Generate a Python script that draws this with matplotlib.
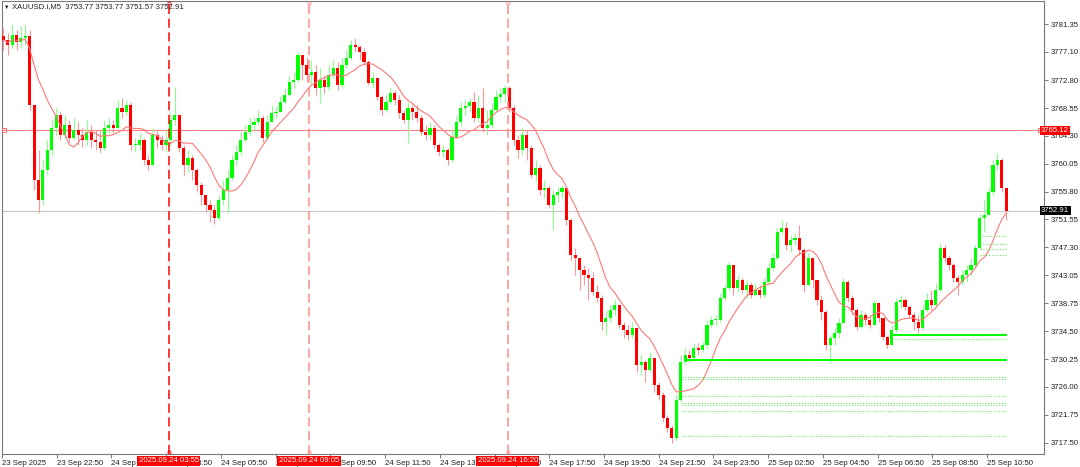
import numpy as np
import pandas as pd
import matplotlib
matplotlib.use("Agg")
import matplotlib.pyplot as plt
from matplotlib import transforms

plt.rcParams['font.family'] = ['Liberation Sans', 'DejaVu Sans']

# XAUUSD.i, M5 -- drawn here as 10 minute candles
first_open = 3779.6
close = [
    3778.9, 3778.2, 3779.7, 3778.6, 3779.2, 3779.5, 3769.0, 3757.6, 3754.5, 3759.1,
    3762.1, 3765.5, 3767.5, 3764.4, 3766.0, 3764.0, 3765.2, 3764.4, 3763.7, 3764.9,
    3763.7, 3763.4, 3762.5, 3765.5, 3766.0, 3765.5, 3768.5, 3767.9, 3769.0, 3762.9,
    3762.9, 3763.7, 3760.6, 3759.9, 3764.4, 3763.7, 3762.9, 3763.7, 3766.7, 3767.5,
    3762.5, 3759.9, 3760.9, 3759.1, 3756.8, 3755.3, 3753.8, 3753.0, 3751.8, 3754.5,
    3756.0, 3757.9, 3760.6, 3761.8, 3763.7, 3764.9, 3766.0, 3766.4, 3767.0, 3764.0,
    3766.4, 3767.8, 3767.9, 3769.5, 3770.5, 3772.5, 3772.8, 3776.6, 3775.1, 3773.6,
    3774.0, 3771.6, 3772.8, 3771.8, 3773.6, 3774.7, 3772.1, 3775.1, 3776.2, 3778.2,
    3777.9, 3777.1, 3775.6, 3772.4, 3773.1, 3770.2, 3768.2, 3769.5, 3770.8, 3769.8,
    3767.8, 3766.7, 3768.5, 3767.9, 3767.0, 3764.9, 3764.4, 3765.5, 3762.9, 3761.8,
    3762.1, 3760.6, 3764.1, 3766.4, 3768.5, 3768.9, 3769.5, 3767.0, 3768.5, 3765.5,
    3766.0, 3768.2, 3770.2, 3770.7, 3771.6, 3768.5, 3763.7, 3762.1, 3764.4, 3762.5,
    3758.3, 3759.4, 3756.0, 3756.4, 3753.8, 3755.3, 3755.7, 3756.4, 3751.5, 3746.1,
    3745.7, 3743.8, 3743.1, 3742.6, 3740.5, 3739.6, 3735.9, 3736.5, 3737.7, 3738.5,
    3735.4, 3734.7, 3733.9, 3735.0, 3729.4, 3729.8, 3728.6, 3730.4, 3726.3, 3724.8,
    3721.3, 3719.7, 3718.2, 3724.0, 3729.8, 3730.9, 3730.4, 3731.9, 3731.6, 3732.4,
    3735.4, 3736.2, 3736.2, 3739.6, 3741.1, 3744.6, 3741.1, 3742.3, 3740.8, 3741.6,
    3740.0, 3740.8, 3740.0, 3742.0, 3744.1, 3745.7, 3749.6, 3750.2, 3747.7, 3748.4,
    3748.7, 3746.9, 3741.6, 3745.7, 3742.3, 3739.3, 3737.4, 3732.4, 3733.5, 3734.2,
    3735.8, 3742.0, 3739.6, 3737.7, 3735.1, 3737.0, 3736.2, 3735.4, 3738.8, 3736.5,
    3733.6, 3732.4, 3734.7, 3739.0, 3739.3, 3738.2, 3737.0, 3735.9, 3735.0, 3737.7,
    3739.3, 3738.5, 3740.8, 3747.2, 3745.7, 3744.6, 3742.6, 3742.0, 3743.1, 3743.8,
    3744.6, 3747.2, 3751.8, 3752.2, 3755.7, 3759.9, 3760.6, 3756.4, 3752.91,
]
high = [
    3780.8, 3780.0, 3781.2, 3780.4, 3781.1, 3781.4, 3780.4, 3769.0, 3762.1, 3760.6,
    3763.7, 3766.7, 3768.5, 3767.9, 3767.5, 3766.7, 3767.0, 3766.4, 3765.5, 3766.7,
    3766.0, 3765.2, 3765.2, 3766.7, 3767.0, 3766.7, 3769.8, 3770.1, 3769.8, 3769.5,
    3764.0, 3764.7, 3764.0, 3761.4, 3765.5, 3765.2, 3764.4, 3765.2, 3767.9, 3771.8,
    3767.0, 3762.9, 3762.1, 3761.4, 3759.4, 3757.3, 3755.3, 3754.5, 3753.8, 3755.3,
    3757.6, 3759.1, 3761.4, 3762.9, 3764.9, 3766.0, 3767.0, 3767.2, 3768.2, 3767.5,
    3767.5, 3769.0, 3768.9, 3770.4, 3771.6, 3773.4, 3774.0, 3777.1, 3776.6, 3776.3,
    3775.9, 3775.1, 3774.7, 3773.6, 3775.1, 3775.9, 3775.6, 3776.2, 3777.4, 3778.9,
    3779.2, 3778.2, 3777.7, 3775.9, 3774.0, 3772.8, 3770.5, 3770.5, 3771.8, 3771.3,
    3770.5, 3768.2, 3769.5, 3769.0, 3769.0, 3767.5, 3766.0, 3766.4, 3766.0, 3763.2,
    3762.9, 3762.5, 3765.2, 3767.3, 3769.5, 3769.8, 3770.1, 3771.0, 3770.5, 3771.6,
    3768.2, 3769.3, 3771.3, 3771.6, 3772.1, 3771.9, 3769.0, 3764.4, 3765.5, 3765.2,
    3762.9, 3760.6, 3759.9, 3757.6, 3756.8, 3756.0, 3756.5, 3756.8, 3756.4, 3751.8,
    3747.2, 3745.7, 3744.6, 3744.2, 3743.5, 3741.6, 3740.0, 3737.7, 3738.5, 3739.3,
    3738.5, 3735.9, 3735.4, 3735.9, 3734.7, 3730.9, 3730.1, 3731.3, 3730.1, 3726.8,
    3725.2, 3721.7, 3720.2, 3724.8, 3730.9, 3731.9, 3731.6, 3732.7, 3732.7, 3732.9,
    3736.2, 3736.8, 3737.0, 3740.3, 3741.6, 3745.1, 3744.6, 3743.1, 3742.6, 3742.3,
    3742.0, 3741.9, 3741.6, 3742.6, 3744.9, 3746.4, 3750.2, 3751.5, 3751.2, 3749.2,
    3749.5, 3750.7, 3747.2, 3746.4, 3745.1, 3742.3, 3740.0, 3737.7, 3733.9, 3735.0,
    3736.5, 3742.6, 3742.3, 3740.0, 3738.0, 3737.7, 3737.4, 3737.0, 3739.3, 3739.0,
    3736.5, 3733.9, 3735.4, 3739.6, 3740.0, 3739.6, 3738.5, 3737.4, 3737.0, 3738.5,
    3740.3, 3740.8, 3741.9, 3747.9, 3747.7, 3746.1, 3744.9, 3743.1, 3743.8, 3744.6,
    3745.7, 3747.7, 3752.4, 3754.5, 3756.4, 3760.6, 3761.7, 3760.9, 3756.4,
]
low = [
    3777.4, 3776.6, 3777.7, 3777.4, 3777.7, 3778.2, 3768.2, 3756.0, 3752.5, 3753.8,
    3758.3, 3761.4, 3764.4, 3763.7, 3764.0, 3763.4, 3763.7, 3762.9, 3762.6, 3762.9,
    3762.5, 3762.1, 3761.7, 3762.1, 3764.7, 3764.7, 3765.5, 3767.0, 3767.5, 3762.1,
    3761.8, 3762.1, 3759.9, 3759.1, 3759.9, 3762.5, 3762.1, 3761.8, 3762.9, 3766.0,
    3761.8, 3758.3, 3758.8, 3757.6, 3755.7, 3753.8, 3752.7, 3751.2, 3750.9, 3751.5,
    3753.8, 3752.5, 3757.6, 3759.9, 3761.4, 3763.4, 3764.4, 3765.2, 3766.0, 3763.4,
    3763.7, 3766.4, 3767.0, 3767.9, 3769.2, 3770.4, 3771.6, 3772.5, 3772.8, 3772.5,
    3772.1, 3770.5, 3769.3, 3770.8, 3771.3, 3773.1, 3771.3, 3771.6, 3774.7, 3775.9,
    3777.1, 3775.9, 3775.1, 3772.1, 3771.6, 3769.8, 3767.5, 3767.9, 3769.2, 3769.0,
    3767.0, 3766.3, 3763.2, 3766.7, 3766.4, 3764.4, 3763.7, 3763.7, 3762.5, 3761.2,
    3761.1, 3759.9, 3760.3, 3764.0, 3765.8, 3767.5, 3767.9, 3766.4, 3766.4, 3764.9,
    3764.4, 3765.5, 3767.9, 3769.5, 3769.5, 3767.9, 3762.9, 3760.9, 3761.4, 3760.6,
    3757.9, 3757.3, 3755.3, 3754.8, 3753.3, 3749.9, 3754.2, 3754.8, 3750.7, 3745.4,
    3743.1, 3740.8, 3741.6, 3739.3, 3740.0, 3739.0, 3734.7, 3733.9, 3735.9, 3737.0,
    3735.0, 3733.5, 3733.2, 3733.5, 3728.3, 3727.8, 3726.8, 3728.3, 3725.2, 3724.0,
    3720.7, 3719.1, 3717.5, 3717.9, 3723.7, 3729.4, 3729.8, 3730.1, 3730.9, 3731.3,
    3731.9, 3735.1, 3735.4, 3735.9, 3739.3, 3740.8, 3740.0, 3740.5, 3740.3, 3739.6,
    3739.6, 3739.9, 3739.6, 3739.7, 3741.6, 3743.8, 3745.4, 3749.2, 3746.9, 3746.6,
    3747.7, 3746.1, 3740.5, 3741.6, 3741.1, 3738.5, 3736.2, 3731.6, 3729.7, 3732.4,
    3733.5, 3736.2, 3739.0, 3737.0, 3734.7, 3735.0, 3735.4, 3735.0, 3735.4, 3735.9,
    3733.2, 3731.9, 3732.4, 3734.4, 3738.0, 3737.7, 3736.5, 3734.7, 3734.2, 3734.7,
    3737.4, 3737.7, 3738.5, 3740.5, 3745.1, 3743.8, 3742.0, 3740.0, 3741.6, 3742.0,
    3743.1, 3744.1, 3746.9, 3749.6, 3752.2, 3755.3, 3759.1, 3755.7, 3751.5,
]

price_ticks = [3781.35, 3777.10, 3772.80, 3768.55, 3764.30, 3760.05, 3755.80, 3751.55,
               3747.30, 3743.05, 3738.75, 3734.50, 3730.25, 3726.00, 3721.75, 3717.50]
time_labels = ['23 Sep 2025', '23 Sep 22:50', '24 Sep 01:50', '24 Sep 03:50', '24 Sep 05:50',
               '24 Sep 07:50', '24 Sep 09:50', '24 Sep 11:50', '24 Sep 13:50', '24 Sep 15:50',
               '24 Sep 17:50', '24 Sep 19:50', '24 Sep 21:50', '24 Sep 23:50', '25 Sep 02:50',
               '25 Sep 04:50', '25 Sep 06:50', '25 Sep 08:50', '25 Sep 10:50']

title = 'XAUUSD.i,M5  3753.77 3753.77 3751.57 3752.91'
ask_line = 3765.12
bid_line = 3752.91

# vertical markers (bar position, label, colour)
vline_pos = [37.6, 69.5, 114.7]
vline_text = ['2025.09.24 03:55', '2025.09.24 09:05', '2025.09.24 16:20']
vline_col = ['#ff0000', '#ff8c8c', '#ff8c8c']

# green levels: price, start bar
solid_levels = [3733.9, 3730.07]
solid_start = [202.3, 155.4]
dot_levels = [3733.3, 3727.6, 3727.2, 3724.6, 3723.6, 3723.3, 3722.3, 3718.5,
              3749.1, 3747.8, 3747.1, 3746.1]
dot_start = [202.7, 154.2, 154.2, 154.2, 154.2, 154.2, 154.2, 154.2,
             222.5, 222.0, 222.0, 222.0]
level_end = 228.3

c = np.array(close)
o = np.array([first_open] + close[:-1])
h = np.maximum.reduce([np.array(high), o, c])
l = np.minimum.reduce([np.array(low), o, c])
x = np.arange(len(c))
ma = pd.Series(c).rolling(10, min_periods=1).mean()

fig = plt.figure(figsize=(10.8, 4.67), dpi=100)
ax = fig.add_axes([2/1080, 13/467, 1042/1080, 453/467])
ax.set_xlim(-0.25, 236.6)
ax.set_ylim(3715.78, 3784.87)

up = c >= o
ax.vlines(x, l, h, colors=np.where(up, '#8cff8c', '#ff9696'), lw=0.8, zorder=3)
ax.bar(x, np.maximum(np.abs(c - o), 0.12), bottom=np.minimum(o, c), width=0.72,
       color=np.where(up, '#00ff00', '#ff0000'), lw=0, zorder=4)
ax.plot(x, ma, color='#ff7878', lw=0.8, zorder=5)

ax.axhline(ask_line, color='#ff8080', lw=0.8, zorder=2)
ax.plot([0.1, 235.8], [ask_line, ask_line], 's', ms=2.5, mfc='none', mec='#ff6060', mew=0.6, zorder=6)
ax.axhline(bid_line, color='#c8c8c8', lw=0.8, zorder=2)

for p, s in zip(solid_levels, solid_start):
    ax.hlines(p, s, level_end, color='#00ff00', lw=1.4, zorder=6)
for p, s in zip(dot_levels, dot_start):
    ax.hlines(p, s, level_end, color='#66ee66', lw=0.8, linestyles=(0, (1, 1.5)), zorder=6)

trans_v = transforms.blended_transform_factory(ax.transData, fig.transFigure)
for xp, txt, col in zip(vline_pos, vline_text, vline_col):
    ax.axvline(xp, color=col, lw=1.1, dashes=(6, 3), zorder=7)
    ax.plot([xp, xp], [3784.6, 3716.05], 'o', ms=2.3, mfc='none', mec=col, mew=0.6, zorder=7, clip_on=False)
    ax.text(xp, 1 - 461/467, txt, transform=trans_v, ha='center', va='center', fontsize=5.6,
            color='white', zorder=20, clip_on=False,
            bbox=dict(boxstyle='square,pad=0.18', fc='#ff0000', ec='none'))

trans_h = transforms.blended_transform_factory(fig.transFigure, ax.transData)
ax.text(1041/1080, ask_line, f'{ask_line:.2f}', transform=trans_h, ha='left', va='center',
        fontsize=5.6, color='white', zorder=20, clip_on=False,
        bbox=dict(boxstyle='square,pad=0.18', fc='#ff0000', ec='none'))
ax.text(1041/1080, bid_line, f'{bid_line:.2f}', transform=trans_h, ha='left', va='center',
        fontsize=5.6, color='white', zorder=20, clip_on=False,
        bbox=dict(boxstyle='square,pad=0.18', fc='#000000', ec='none'))

ax.yaxis.tick_right()
ax.set_yticks(price_ticks, [f'{v:.2f}' for v in price_ticks])
tick_pos = -0.3 + 12.443 * np.arange(len(time_labels))
ax.set_xticks(tick_pos, time_labels)
for lbl in ax.get_xticklabels():
    lbl.set_horizontalalignment('left')
ax.tick_params(axis='both', direction='out', length=3, width=0.6, color='#606060',
               labelsize=5.6, labelcolor='#202020', pad=1.5)
for sp in ax.spines.values():
    sp.set_color('#7a7a7a')
    sp.set_linewidth(0.8)

fig.text(4/1080, 1 - 7/467, '\u25bc', fontsize=4, va='center', ha='left', color='#202020')
fig.text(12/1080, 1 - 7/467, title, fontsize=5.6, va='center', ha='left', color='#202020')

fig.savefig('out.png', dpi=100)
